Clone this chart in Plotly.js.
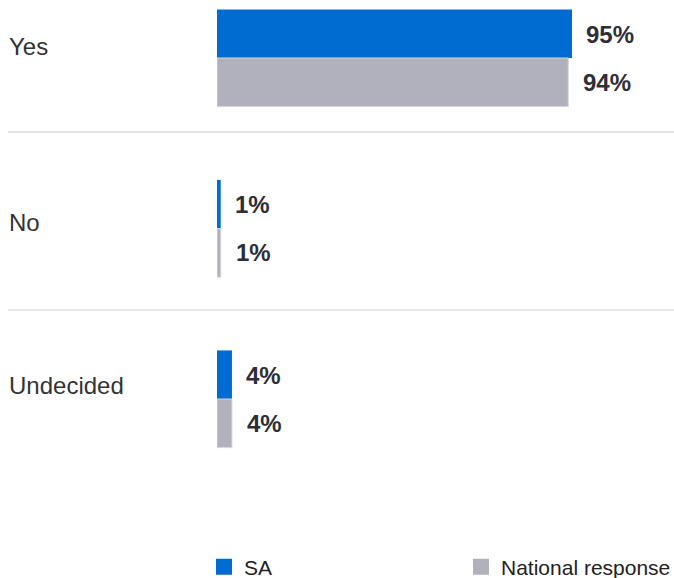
<!DOCTYPE html>
<html>
<head>
<meta charset="utf-8">
<script src="https://cdn.plot.ly/plotly-3.0.1.min.js"></script>
<style>html,body{margin:0;padding:0;background:#fff;}#chart{width:674px;height:578px;}</style>
</head>
<body>
<div id="chart"></div>
<script>
const categories = ["Yes", "No", "Undecided"];
const saValues = [95, 1, 4];
const nationalValues = [94, 1, 4];
const seriesNames = ["SA", "National response"];
const seriesColors = ["#006cd1", "#b1b1bd"];

const W = 674, H = 578;
const L = 217, R = 0, T = 0, B = 108;
const pxPerPct = 3.737;
const plotW = W - L - R, plotH = H - T - B;
const xMax = plotW / pxPerPct;

const fmt = v => v + "%";
const FONT = "Liberation Sans, Arial, sans-serif";
const labelFont = {family: FONT, size: 24, color: "#2e2e36"};

const traces = [
  {type: "bar", orientation: "h", name: seriesNames[0], y: categories, x: saValues,
   marker: {color: seriesColors[0]}, showlegend: false, legendgroup: "sa"},
  {type: "bar", orientation: "h", name: seriesNames[1], y: categories, x: nationalValues,
   marker: {color: seriesColors[1], line: {color: "#d6d6dc", width: 1}}, showlegend: false, legendgroup: "nat"},
  // legend entries (square swatches)
  {type: "scatter", mode: "markers", name: seriesNames[0], x: [null], y: [null], legendgroup: "sa",
   marker: {symbol: "square", size: 16, color: seriesColors[0]}},
  {type: "scatter", mode: "markers", name: seriesNames[1], x: [null], y: [null], legendgroup: "nat",
   marker: {symbol: "square", size: 16, color: seriesColors[1]}}
];

const annotations = [];
const catShift = {"Yes": 12, "No": 6, "Undecided": 14};
categories.forEach((c, i) => {
  annotations.push({xref: "paper", x: (7 - L) / plotW, xanchor: "left", yref: "y", y: c,
    yshift: catShift[c] || 0, text: c, showarrow: false,
    font: {family: FONT, size: 24, color: "#333333"}});
  annotations.push({x: saValues[i], y: c, xanchor: "left", xshift: 12, yshift: 24,
    text: "<b>" + fmt(saValues[i]) + "</b>", showarrow: false, font: labelFont});
  annotations.push({x: nationalValues[i], y: c, xanchor: "left", xshift: 13, yshift: -24,
    text: "<b>" + fmt(nationalValues[i]) + "</b>", showarrow: false, font: labelFont});
});

const sepPx = [132, 310];
const y0px = 58, unitPx = 170.5;
const shapes = sepPx.map(p => ({type: "line", xref: "paper", x0: (8 - L) / plotW, x1: 1,
  yref: "y", y0: (p - y0px) / unitPx, y1: (p - y0px) / unitPx,
  line: {color: "#dcdcdc", width: 1.5}}));

const layout = {
  width: W, height: H,
  margin: {l: L, r: R, t: T, b: B, autoexpand: false},
  paper_bgcolor: "#ffffff", plot_bgcolor: "#ffffff",
  barmode: "group", bargap: 0.43, bargroupgap: 0,
  xaxis: {range: [0, xMax], showgrid: false, zeroline: false, showticklabels: false, fixedrange: true},
  yaxis: {type: "category", categoryarray: categories, range: [(plotH - y0px) / unitPx, -y0px / unitPx],
    showgrid: false, zeroline: false, showticklabels: false, fixedrange: true},
  showlegend: true,
  legend: {orientation: "h", x: (204 - L) / plotW, xanchor: "left", y: -(567 - plotH) / plotH, yanchor: "middle",
    entrywidth: 212, entrywidthmode: "pixels", traceorder: "normal",
    font: {family: FONT, size: 21, color: "#222222"}},
  annotations: annotations,
  shapes: shapes,
  font: {family: FONT}
};

Plotly.newPlot("chart", traces, layout, {displayModeBar: false, staticPlot: true});
</script>
</body>
</html>
